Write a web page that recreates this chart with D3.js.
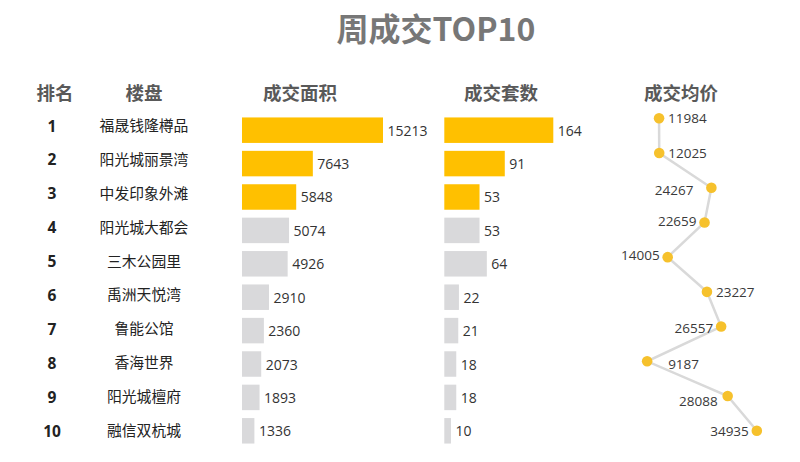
<!DOCTYPE html>
<html><head><meta charset="utf-8">
<script src="https://cdn.jsdelivr.net/npm/d3@7/dist/d3.min.js"></script>
<style>
html,body{margin:0;padding:0;background:#fff;}
svg{display:block;font-family:"Noto Sans CJK SC","Microsoft YaHei",sans-serif;}
.num{font-family:"Open Sans","Noto Sans",sans-serif;}
</style></head>
<body><svg id="chart" width="800" height="462"></svg>
<script>
// ---- data ----
const ranks = [1,2,3,4,5,6,7,8,9,10];
const names = ["福晟钱隆樽品","阳光城丽景湾","中发印象外滩","阳光城大都会","三木公园里","禹洲天悦湾","鲁能公馆","香海世界","阳光城檀府","融信双杭城"];
const areaValues = [15213,7643,5848,5074,4926,2910,2360,2073,1893,1336];
const countValues = [164,91,53,53,64,22,21,18,18,10];
const priceValues = [11984,12025,24267,22659,14005,23227,26557,9187,28088,34935];
const headers = ["排名","楼盘","成交面积","成交套数","成交均价"];
const title = "周成交TOP10";
const highlightTop = 3;

// label placement config for the price line (side + fine offset)
const priceLabelSide = ["right","right","left","left","left","right","left","right","left","left"];
const priceLabelShift = [[0,0],[0,0],[-10,2],[0,-1],[0,-2],[0,0],[0,1],[12,3],[-2,5],[0,0]];

// ---- layout ----
const svg = d3.select("#chart");
const gold = "#FFC000", gray = "#D9D9DB", textC = "#333";

svg.append("text").attr("x",436).attr("y",27).attr("text-anchor","middle")
  .attr("dominant-baseline","central").attr("font-size",32).attr("font-weight",700)
  .attr("fill","#777").text(title);

const headerX = [55,144,300,501,681];
svg.selectAll("text.hdr").data(headers).join("text").attr("class","hdr")
  .attr("x",(d,i)=>headerX[i]).attr("y",92).attr("text-anchor","middle")
  .attr("dominant-baseline","central").attr("font-size",18.5).attr("font-weight",700)
  .attr("fill","#595959").text(d=>d);

// row scales
const yName = d3.scalePoint().domain(ranks).range([124.5,429.5]);
const yBar = d3.scaleBand().domain(ranks).range([113.5,447.5]).paddingInner(0.237).paddingOuter(0.118);
const yPrice = d3.scalePoint().domain(ranks).range([118.3,430.7]);

// rank + names
svg.selectAll("text.rank").data(ranks).join("text").attr("class","rank num")
  .attr("x",52).attr("y",d=>yName(d)+1).attr("text-anchor","middle").attr("dominant-baseline","central")
  .attr("font-size",15.5).attr("font-weight",700).attr("fill","#222").text(d=>d);
svg.selectAll("text.name").data(names).join("text").attr("class","name")
  .attr("x",144).attr("y",(d,i)=>yName(ranks[i])).attr("text-anchor","middle").attr("dominant-baseline","central")
  .attr("font-size",14.8).attr("fill","#222").text(d=>d);

// bar columns
function barColumn(values, x0, width){
  const x = d3.scaleLinear().domain([0,d3.max(values)]).range([0,width]);
  const g = svg.append("g").attr("transform",`translate(${x0},0)`);
  g.selectAll("rect").data(values).join("rect")
    .attr("x",0).attr("y",(d,i)=>yBar(ranks[i])).attr("width",d=>x(d)).attr("height",yBar.bandwidth())
    .attr("fill",(d,i)=>i<highlightTop?gold:gray);
  g.selectAll("text").data(values).join("text").attr("class","num")
    .attr("x",d=>x(d)+4.5).attr("y",(d,i)=>yBar(ranks[i])+yBar.bandwidth()/2)
    .attr("dominant-baseline","central").attr("font-size",14).attr("fill",textC).text(d=>d);
}
barColumn(areaValues,242,141);
barColumn(countValues,444.3,109);

// price line
const xPrice = d3.scaleLinear().domain([0,35000]).range([608,757.1]);
const pts = priceValues.map((v,i)=>({v,x:xPrice(v),y:yPrice(ranks[i]),i}));
svg.append("path").datum(pts).attr("d",d3.line().x(d=>d.x).y(d=>d.y))
  .attr("fill","none").attr("stroke","#D9D9D9").attr("stroke-width",2.5);
svg.selectAll("circle.pt").data(pts).join("circle").attr("class","pt")
  .attr("cx",d=>d.x).attr("cy",d=>d.y).attr("r",5.3).attr("fill","#F6C12C");
svg.selectAll("text.pl").data(pts).join("text").attr("class","pl num")
  .attr("x",d=>d.x + (priceLabelSide[d.i]==="right"?9:-8) + priceLabelShift[d.i][0])
  .attr("y",d=>d.y + priceLabelShift[d.i][1])
  .attr("text-anchor",d=>priceLabelSide[d.i]==="right"?"start":"end")
  .attr("dominant-baseline","central").attr("font-size",13.5).attr("fill","#3a3a3a").text(d=>d.v);
</script></body></html>
